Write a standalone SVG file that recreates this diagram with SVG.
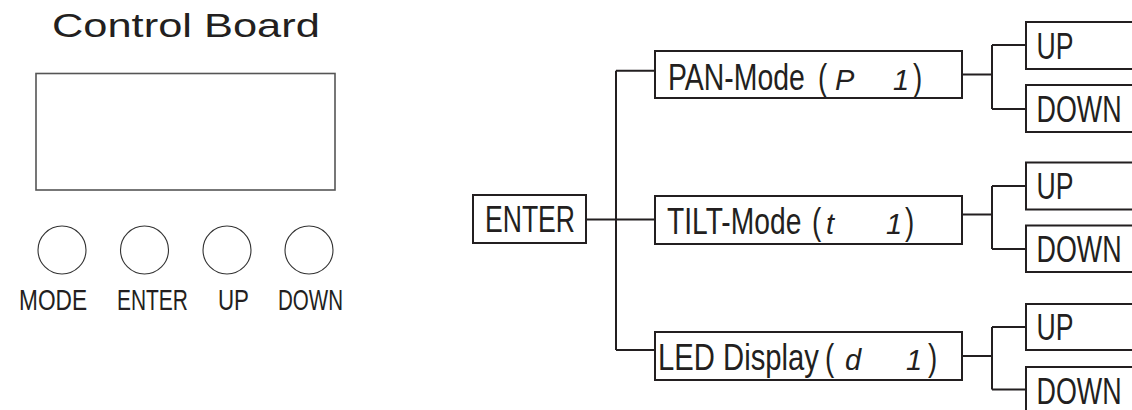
<svg xmlns="http://www.w3.org/2000/svg" width="1132" height="410" viewBox="0 0 1132 410">
<style>
.bg{fill:#fff}
.box{fill:#fff;stroke:#231f20;stroke-width:2}
.disp{fill:#fff;stroke:#555;stroke-width:1.6}
.btn{fill:#fff;stroke:#333;stroke-width:1.1}
.con{fill:none;stroke:#231f20;stroke-width:2}
.t{font-family:"Liberation Sans",Arial,sans-serif;fill:#231f20}
.big{font-size:37px}
.lbl{font-size:29px}
.seg{font-family:"Liberation Sans",Arial,sans-serif;fill:#231f20;font-style:italic;font-size:29px}
.title{font-family:"Liberation Sans",Arial,sans-serif;font-size:33px;fill:#231f20}
</style>
<rect class="bg" x="0" y="0" width="1132" height="410"/>
<g id="control-board">
<text class="title" transform="translate(52 37) scale(1.316 1)">Control Board</text>
<rect class="disp" x="36" y="73.5" width="299" height="116.5"/>
<circle class="btn" cx="62" cy="250" r="24"/>
<circle class="btn" cx="144.5" cy="250" r="24"/>
<circle class="btn" cx="227" cy="250" r="24"/>
<circle class="btn" cx="309" cy="250" r="24"/>
<text class="t lbl" transform="translate(19 310) scale(0.782 1)">MODE</text>
<text class="t lbl" transform="translate(117 310) scale(0.722 1)">ENTER</text>
<text class="t lbl" transform="translate(218 310) scale(0.77 1)">UP</text>
<text class="t lbl" transform="translate(278 310) scale(0.708 1)">DOWN</text>
</g>
<g id="connectors">
<path class="con" d="M586 219.5H616M616 70.7V350M616 70.7H655M616 219.5H655M616 350H655"/>
<path class="con" d="M962 74.5H992M992 45V109M992 45H1026M992 109H1026"/>
<path class="con" d="M962 214.5H992M992 186V249M992 186H1026M992 249H1026"/>
<path class="con" d="M962 356H992M992 327V389.5M992 327H1026M992 389.5H1026"/>
</g>
<g id="enter">
<rect class="box" x="473" y="195" width="113" height="48"/>
<text class="t big" transform="translate(485 231.5) scale(0.718 1)">ENTER</text>
</g>
<g id="pan-mode">
<rect class="box" x="655" y="51" width="307" height="47"/>
<text class="t big" transform="translate(668 90) scale(0.768 1)">PAN-Mode</text>
<text class="t big" transform="translate(818 90) scale(0.75 1)">(</text>
<text class="seg" x="835" y="90">P</text>
<text class="seg" x="893" y="90">1</text>
<text class="t big" transform="translate(913 90) scale(0.75 1)">)</text>
</g>
<g id="tilt-mode">
<rect class="box" x="655" y="196" width="307" height="48"/>
<text class="t big" transform="translate(667 234) scale(0.763 1)">TILT-Mode</text>
<text class="t big" transform="translate(812 234) scale(0.75 1)">(</text>
<text class="seg" x="826" y="234">t</text>
<text class="seg" x="886" y="234">1</text>
<text class="t big" transform="translate(905 234) scale(0.75 1)">)</text>
</g>
<g id="led-display">
<rect class="box" x="655" y="332" width="307" height="48"/>
<text class="t big" transform="translate(658 369.5) scale(0.791 1)">LED Display</text>
<text class="t big" transform="translate(825 369.5) scale(0.75 1)">(</text>
<text class="seg" x="845" y="369.5">d</text>
<text class="seg" x="906" y="369.5">1</text>
<text class="t big" transform="translate(928 369.5) scale(0.75 1)">)</text>
</g>
<g id="pan-up">
<rect class="box" x="1026" y="22" width="130" height="47"/>
<text class="t big" transform="translate(1036.5 58.5) scale(0.72 1)">UP</text>
</g>
<g id="pan-down">
<rect class="box" x="1026" y="85" width="130" height="47"/>
<text class="t big" transform="translate(1036.5 121.5) scale(0.726 1)">DOWN</text>
</g>
<g id="tilt-up">
<rect class="box" x="1026" y="162.5" width="130" height="47"/>
<text class="t big" transform="translate(1036.5 199) scale(0.72 1)">UP</text>
</g>
<g id="tilt-down">
<rect class="box" x="1026" y="225.5" width="130" height="46.5"/>
<text class="t big" transform="translate(1036.5 262) scale(0.726 1)">DOWN</text>
</g>
<g id="led-up">
<rect class="box" x="1026" y="304" width="130" height="46"/>
<text class="t big" transform="translate(1036.5 340) scale(0.72 1)">UP</text>
</g>
<g id="led-down">
<rect class="box" x="1026" y="367" width="130" height="47"/>
<text class="t big" transform="translate(1036.5 403.5) scale(0.726 1)">DOWN</text>
</g>
</svg>
